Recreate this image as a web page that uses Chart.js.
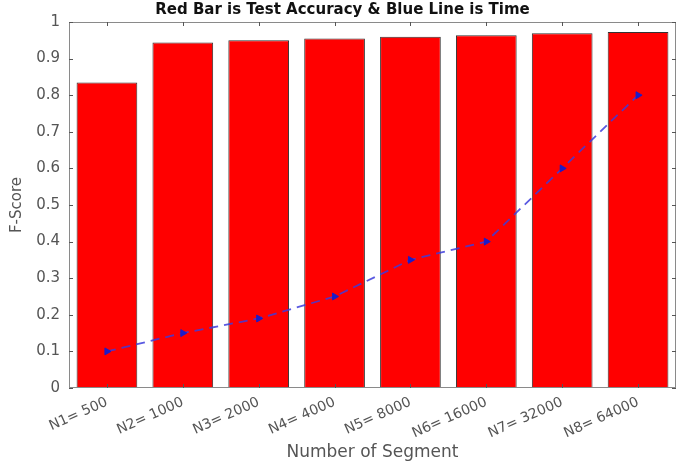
<!DOCTYPE html>
<html>
<head>
<meta charset="utf-8">
<script src="https://cdn.jsdelivr.net/npm/chart.js@4.4.0/dist/chart.umd.min.js"></script>
<style>
html,body{margin:0;padding:0;background:#fff;}
#wrap{width:685px;height:465px;position:relative;}
</style>
</head>
<body>
<div id="wrap"><canvas id="c" width="685" height="465"></canvas></div>
<script>
const categories = ["N1= 500","N2= 1000","N3= 2000","N4= 4000","N5= 8000","N6= 16000","N7= 32000","N8= 64000"];
const accuracy = [0.835, 0.944, 0.950, 0.955, 0.960, 0.964, 0.969, 0.973];
const timeValues = [0.10, 0.15, 0.19, 0.25, 0.35, 0.40, 0.60, 0.80];
const titleText = "Red Bar is Test Accuracy & Blue Line is Time";
const xTitle = "Number of Segment";
const yTitle = "F-Score";

const FONT = '"DejaVu Sans", "Liberation Sans", Arial, sans-serif';

const frame = {
  id: 'frame',
  afterDatasetsDraw(chart) {
    const {ctx, chartArea: a, scales} = chart;
    ctx.save();
    ctx.strokeStyle = '#8a8a8a';
    ctx.lineWidth = 1;
    ctx.strokeRect(a.left + 0.5, a.top + 0.5, a.right - a.left - 1, a.bottom - a.top - 1);
    ctx.strokeStyle = '#555';
    const ys = scales.y;
    ys.ticks.forEach((t, i) => {
      const y = Math.round(ys.getPixelForTick(i)) + 0.5;
      ctx.beginPath();
      ctx.moveTo(a.left, y); ctx.lineTo(a.left + 4, y);
      ctx.moveTo(a.right, y); ctx.lineTo(a.right - 4, y);
      ctx.stroke();
    });
    const xs = scales.x;
    xs.ticks.forEach((t, i) => {
      const x = Math.round(xs.getPixelForTick(i)) + 0.5;
      ctx.beginPath();
      ctx.moveTo(x, a.bottom); ctx.lineTo(x, a.bottom - 4);
      ctx.moveTo(x, a.top); ctx.lineTo(x, a.top + 4);
      ctx.stroke();
    });
    ctx.restore();
  },
  afterDraw(chart) {
    const {ctx} = chart;
    ctx.save();
    ctx.fillStyle = '#111';
    ctx.font = 'bold 15px ' + FONT;
    ctx.textAlign = 'center';
    ctx.textBaseline = 'middle';
    ctx.fillText(titleText, chart.width / 2, 10);
    ctx.restore();
  }
};

new Chart(document.getElementById('c'), {
  data: {
    labels: categories,
    datasets: [
      {
        type: 'line',
        label: 'Time',
        data: timeValues,
        order: 1,
        borderColor: 'rgba(60,60,220,0.85)',
        borderWidth: 1.8,
        borderDash: [9, 6],
        tension: 0,
        pointStyle: 'triangle',
        rotation: 90,
        pointRadius: 4,
        pointBackgroundColor: '#1c1cc8',
        pointBorderColor: '#1c1cc8',
        pointBorderWidth: 1
      },
      {
        type: 'bar',
        label: 'Test Accuracy',
        data: accuracy,
        order: 2,
        backgroundColor: '#ff0000',
        borderColor: '#333',
        borderWidth: 1,
        categoryPercentage: 1.0,
        barPercentage: 0.8
      }
    ]
  },
  plugins: [frame],
  options: {
    responsive: false,
    animation: false,
    layout: { padding: { top: 22, right: 9, left: 0, bottom: 0 } },
    plugins: {
      legend: { display: false },
      tooltip: { enabled: false },
      title: { display: false }
    },
    scales: {
      x: {
        afterFit(s) { s.height = 77; },
        grid: { display: false, drawTicks: false },
        border: { display: false },
        ticks: {
          color: '#555',
          font: { family: FONT, size: 14 },
          minRotation: 24, maxRotation: 24,
          padding: 6
        },
        title: {
          display: true, text: xTitle, color: '#555',
          font: { family: FONT, size: 17 },
          padding: { top: 0, bottom: 2 }
        }
      },
      y: {
        afterFit(s) { s.width = 69; },
        min: 0, max: 1,
        grid: { display: false, drawTicks: false },
        border: { display: false },
        ticks: {
          stepSize: 0.1,
          color: '#555',
          font: { family: FONT, size: 15 },
          padding: 9,
          callback: (v) => String(Number(v.toFixed(1)))
        },
        title: {
          display: true, text: yTitle, color: '#555',
          font: { family: FONT, size: 15 },
          padding: { top: 8, bottom: 0 }
        }
      }
    }
  }
});
</script>
</body>
</html>
